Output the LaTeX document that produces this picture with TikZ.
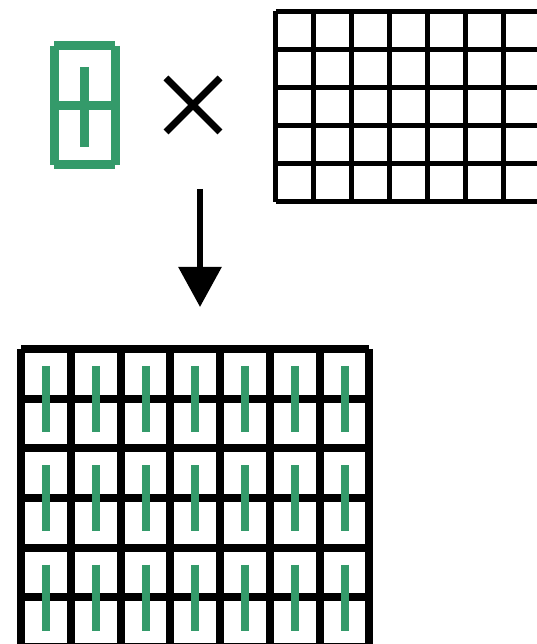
\documentclass[tikz,border=0pt]{standalone}
\usepackage{xcolor}
\usetikzlibrary{arrows.meta}
\definecolor{kernelgreen}{RGB}{52,154,106}

\begin{document}
\begin{tikzpicture}[x=50pt, y=50pt,
    kernel/.style={draw=kernelgreen, line width=9pt},
    inputgrid/.style={draw=black, line width=5pt},
    outputgrid/.style={draw=black, line width=8pt},
    tap/.style={draw=kernelgreen, line width=8pt}]
    \useasboundingbox (0,0) rectangle (10.72,12.88);
    % kernel
    \draw[kernel] (1.08,11.96) -- (2.30,11.96);
    \draw[kernel] (1.08,9.58) -- (2.30,9.58);
    \draw[kernel] (1.08,11.96) -- (1.08,9.58);
    \draw[kernel] (2.30,11.96) -- (2.30,9.58);
    \draw[kernel] (1.08,10.76) -- (2.30,10.76);
    \draw[kernel] (1.68,11.54) -- (1.68,9.94);
    % times sign
    \draw[line width=7pt] (3.32,11.32) -- (4.40,10.24);
    \draw[line width=7pt] (3.32,10.24) -- (4.40,11.32);
    % input grid
    \foreach \i in {0,...,6}
        \draw[inputgrid] (5.516+0.76*\i,12.65) -- (5.516+0.76*\i,8.84);
    \foreach \j in {0,...,5}
        \draw[inputgrid] (5.516,12.65-0.762*\j) -- (10.8,12.65-0.762*\j);
    % arrow
    \coordinate (arrowtop) at (4,9.10);
    \coordinate (arrowtip) at (4,6.74);
    \draw[line width=6pt, -{Triangle[length=40pt,width=42pt]}] (arrowtop) -- (arrowtip);
    % output grid
    \foreach \i in {0,...,7}
        \draw[outputgrid] (0.42+0.995*\i,5.90) -- (0.42+0.995*\i,-0.2);
    \foreach \j in {0,...,6}
        \draw[outputgrid] (0.42,5.90-0.993*\j) -- (7.385,5.90-0.993*\j);
    \foreach \i in {0,...,6}
        \foreach \j in {0,1,2}
            \draw[tap] (0.92+0.995*\i,4.9-1.986*\j+0.66) -- ++(0,-1.32);
\end{tikzpicture}
\end{document}
